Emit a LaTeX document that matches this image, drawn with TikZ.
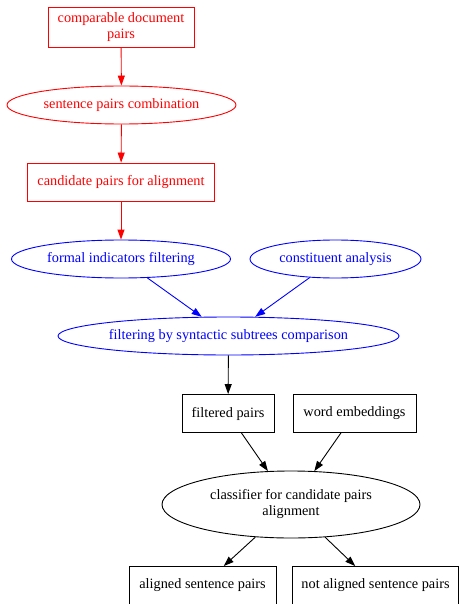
\documentclass[tikz,border=0pt]{standalone}
\usepackage{fontspec}
\setmainfont{Liberation Serif}
\usepackage{tikz}
\usetikzlibrary{arrows.meta,shapes.geometric}
\tikzset{
  gvnode/.style = {align=center, draw, line width=0.9pt,
    font=\fontsize{14.3}{16}\selectfont},
  box/.style = {gvnode, rectangle, inner xsep=9pt, inner ysep=0pt,
    minimum height=38pt},% rectangle, as in dot
  oval/.style = {gvnode, ellipse, inner xsep=0pt, inner ysep=0pt,
    minimum height=38pt},% ellipse, as in dot
  stepa/.style = {red, draw=red},% first stage
  stepb/.style = {blue, draw=blue},% second stage
}
\begin{document}
\begin{tikzpicture}[x=1pt, y=-1pt, line width=0.9pt,
  >={Triangle[length=10pt,width=7pt]}]
\useasboundingbox (0,0) rectangle (459,604);
% first stage
\node [box, stepa, minimum width=146pt, minimum height=40pt] (docs) at (121,27)
  {comparable document\\pairs};
\node [oval, stepa, minimum width=229pt] (comb) at (121.5,105)
  {sentence pairs combination};
\node [box, stepa, minimum width=187pt] (cand) at (121,182)
  {candidate pairs for alignment};
% second stage
\node [oval, stepb, minimum width=219pt] (formal) at (121,259)
  {formal indicators filtering};
\node [oval, stepb, minimum width=171pt] (const) at (335.5,259)
  {constituent analysis};
\node [oval, stepb, minimum width=341pt] (synt) at (228.5,336)
  {filtering by syntactic subtrees comparison};
% classifier
\node [box, minimum width=92pt] (filt) at (228,413.5) {filtered pairs};
\node [box, minimum width=123pt] (emb) at (354.5,413.5) {word embeddings};
\node [oval, minimum width=258pt, minimum height=67pt] (clf) at (291,504.5)
  {classifier for candidate pairs\\alignment};
\node [box, minimum width=147pt] (alig) at (202.5,585.5)
  {aligned sentence pairs};
\node [box, minimum width=161pt] (nalig) at (375.5,585.5)
  {not aligned sentence pairs};

\draw [->, red] (docs) -- (comb);
\draw [->, red] (comb) -- (cand);
\draw [->, red] (cand) -- (formal);
\draw [->, blue] (formal) -- (synt);
\draw [->, blue] (const) -- (synt);
\draw [->] (synt) -- (filt);
\draw [->] (filt) -- (clf);
\draw [->] (emb) -- (clf);
\draw [->] (clf) -- (alig);
\draw [->] (clf) -- (nalig);
\end{tikzpicture}
\end{document}
